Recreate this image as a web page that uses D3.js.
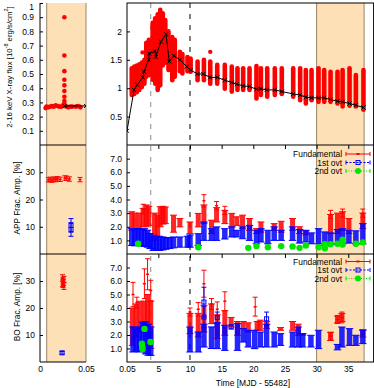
<!DOCTYPE html>
<html><head><meta charset="utf-8">
<script src="https://cdn.jsdelivr.net/npm/d3@7"></script>
<style>body{margin:0;background:#fff}svg text{font-family:"Liberation Sans",Arial,sans-serif;fill:#000}</style>
</head><body><svg id="c" width="374" height="388"></svg>
<script>
// ---------------- DATA ----------------
// Left (first hour) panels, time in days
const fluxEarlyPts = [[0.006,0.26],[0.007,0.27],[0.009,0.265],[0.011,0.27],[0.013,0.275],[0.015,0.27],[0.017,0.28],[0.019,0.275],[0.021,0.27],[0.023,0.27],[0.025,0.28],[0.027,0.275],[0.029,0.27],[0.031,0.265],[0.033,0.27],[0.035,0.27],[0.039,0.27],[0.041,0.275],[0.043,0.27],[0.044,0.265],
  [0.0265,0.90],[0.0265,0.63],[0.0265,0.52],[0.0265,0.46],[0.0265,0.42],[0.0265,0.38],[0.0265,0.34],[0.0265,0.31],[0.0265,0.29]];
const fluxEarlyAvg = [[0.027,0.275],[0.05,0.275]];
// Right panel: red flux ranges per observation [time, low, high]
const fluxCols = [[0.8,0.88,1.35],[1.2,0.90,1.38],[1.6,0.93,1.40],[2.0,0.97,1.42],[2.4,1.02,1.45],[2.8,1.08,1.50],[3.1,1.20,1.80],[3.5,1.23,1.85],
  [4.1,1.15,2.15],[4.5,1.08,2.23],[4.9,0.97,2.30],[5.3,1.05,2.38],[5.7,1.40,2.32],[6.1,1.45,2.20],[6.6,1.32,2.00],[7.2,1.14,1.90],[7.6,1.20,1.85],
  [8.4,1.30,1.64],[8.8,1.26,1.60],[9.6,1.30,1.55],[10.1,1.29,1.52],[11.2,1.14,1.47],[12.2,1.14,1.50],[13.2,1.08,1.47],[14.3,1.08,1.41],[15.5,0.99,1.41],
  [16.6,0.94,1.38],[17.5,0.97,1.35],[18.4,0.97,1.35],[19.4,0.97,1.35],[20.5,0.82,1.39],[21.2,0.88,1.35],[22.2,0.85,1.35],[23.4,0.88,1.35],[24.5,0.90,1.35],
  [26.3,0.85,1.35],[27.4,0.79,1.35],[28.3,0.73,1.32],[29.2,0.79,1.32],[30.3,0.76,1.35],[31.2,0.76,1.32],[32.2,0.76,1.29],[33.3,0.73,1.29],[34.1,0.68,1.32],
  [35.2,0.69,1.35],[36.2,0.68,1.23],[37.4,0.62,1.32]];
const fluxPts = [[2.5,1.63],[13.2,1.64]];
const fluxAvg = [[0.05,0.25],[1.16,0.97],[1.68,1.06],[2.53,1.19],[2.74,1.29],[3.48,1.50],[3.57,1.61],[4.47,1.65],[4.58,1.55],[5.42,1.82],[6.21,1.95],[6.73,1.47],[7.47,1.57],[8.42,1.50],[9.48,1.38],[10.11,1.32],[11.16,1.25],[12.1,1.25],[13.16,1.19],[14.3,1.19],[15.5,1.14],[16.6,1.10],[17.4,1.07],[18.4,1.04],[19.4,1.03],[20.5,0.98],[21.2,0.99],[22.1,0.97],[23.4,0.97],[24.5,0.94],[26.3,0.90],[27.4,0.88],[28.3,0.84],[29.2,0.83],[30.3,0.83],[31.2,0.83],[32.2,0.80],[33.3,0.77],[34.1,0.76],[35.2,0.73],[36.2,0.70],[37.4,0.66]];

// APP fractional amplitude [%]
const appEarlyFund = [[0.009,27.2,0.8],[0.011,27.4,0.8],[0.013,27.1,0.8],[0.015,27.5,0.8],[0.017,27.3,0.8],[0.019,27.6,0.8],[0.022,27.4,0.8],[0.027,27.9,0.8],[0.029,27.8,0.8],[0.032,27.5,0.8],[0.0435,27.3,0.8]];
const appEarly1st = [[0.0337,10.5,2.5],[0.0337,9.0,2.5]];
const appFundStacks = [[0.8,1.74,3.1],[1.3,1.8,3.0],[2.0,1.86,3.0],[2.6,2.0,3.35],[3.1,2.0,3.6],[3.5,2.1,3.5],[4.4,1.0,3.0],[4.9,1.25,2.85],[5.3,2.0,3.47],[5.7,2.2,3.5],[6.1,2.23,3.45],
  [7.4,1.6,2.85],[8.4,1.99,2.6],[10.0,1.5,2.35],[11.3,1.99,2.98],[12.2,2.23,3.6],[13.4,1.5,2.48],[14.2,2.35,3.4],[15.5,2.23,3.2],[16.6,1.99,2.98],[17.4,2.1,2.73],
  [18.3,1.86,2.85],[19.4,1.74,2.6],[20.5,1.5,1.86],[21.2,1.6,2.35],[23.3,1.74,2.23],[24.4,1.6,2.4],[26.2,1.74,2.6],[27.3,1.5,2.0],[28.3,1.4,1.7],
  [32.2,1.49,2.9],[33.3,1.5,3.0],[34.1,1.74,3.1],[35.1,1.5,2.6],[37.3,1.86,3.0]];
const appFundPts = [[12.2,3.9,0.45],[14.2,3.55,0.3],[15.5,3.2,0.3],[2.6,3.3,0.35],[32.2,2.9,0.3],[34.1,3.0,0.3],[37.3,3.0,0.3]];
const app1stStacks = [[0.8,0.63,1.86],[1.3,0.6,1.86],[1.8,0.63,1.86],[2.3,0.6,1.8],[2.8,0.55,1.86],[3.3,0.5,1.75],[3.7,0.4,1.5],[4.2,0.26,1.37],[4.7,0.26,1.3],[5.2,0.26,1.3],
  [5.7,0.3,1.25],[6.2,0.35,1.2],[6.8,0.4,1.2],[7.4,0.45,1.25],[8.4,0.5,1.25],[9.6,0.5,1.3],[10.0,0.5,1.4],[11.3,0.63,1.49],[12.2,1.0,2.35],[13.4,1.0,1.86],
  [14.2,1.0,1.99],[15.5,1.1,1.86],[16.6,1.25,1.99],[17.4,1.25,1.74],[18.3,1.12,1.99],[19.4,1.0,2.1],[20.5,0.75,1.74],[21.2,0.88,1.86],[22.3,0.75,1.74],
  [23.3,1.0,1.99],[24.4,1.0,1.74],[26.2,1.0,1.99],[27.3,0.8,1.8],[28.3,0.88,1.74],[29.2,0.75,1.55],[30.3,0.75,1.86],[31.3,0.63,1.62],[32.2,0.75,1.55],
  [33.3,0.7,1.8],[34.1,0.75,1.86],[35.1,0.8,1.74],[36.2,0.75,1.7],[37.3,0.75,2.23]];
const app2nd = [[1.8,0.75],[11.3,0.5],[19.2,0.45],[20.5,0.58],[22.3,0.5],[24.4,0.58],[26.2,0.55],[27.3,0.45],[28.3,0.62],[30.3,0.5],[31.3,0.42],[31.3,0.72],[32.2,0.72],[33.3,0.75],[34.1,1.05],[34.1,0.7],[36.2,0.75],[37.3,0.85]];

// BO fractional amplitude [%]
const boEarlyFund = [[0.0245,31.0,1.3],[0.025,30.0,1.2],[0.0255,29.5,1.2],[0.025,28.8,1.2],[0.026,28.2,1.3],[0.0245,29.2,1.2],[0.026,30.5,1.2]];
const boEarly1st = [[0.024,3.4,0.5]];
const boFundStacks = [[0.9,1.23,4.0],[1.5,1.85,4.3],[2.1,2.22,4.5],[2.8,2.22,4.5],[3.3,1.23,5.0],[3.8,1.0,4.5],[10.0,2.1,3.6],[11.3,1.85,3.6],[12.2,2.22,4.2],
  [13.4,2.84,4.3],[14.3,1.73,3.5],[15.5,1.98,3.8],[16.5,2.59,3.3],[17.5,1.98,3.0],[18.4,2.47,3.0],[19.2,2.22,2.9],[20.6,2.35,3.0],[21.1,2.35,3.1],[22.1,2.47,3.0],
  [24.3,2.35,2.55],[26.2,2.35,3.0],[27.1,1.98,2.8],[27.8,1.98,2.1],[32.2,1.6,2.2],[33.3,2.9,3.4],[34.0,3.0,3.6],[37.3,1.85,2.4]];
const boFundPts = [[1.0,5.0,0.9],[3.3,6.5,1.15],[2.8,5.8,1.1],[3.8,5.3,0.75],[1.6,4.4,0.4],[12.2,5.8,1.0],[15.5,4.5,0.7],[14.3,3.9,0.55],[11.3,3.9,0.5],
  [10.0,3.7,0.3],[20.3,4.1,0.7],[13.4,4.3,0.4],[32.2,1.9,0.3],[33.3,3.15,0.3],[34.0,3.3,0.4]];
const bo1stStacks = [[1.0,0.74,2.6],[1.5,0.8,2.5],[2.0,0.74,2.6],[2.5,0.8,2.96],[3.0,0.6,3.0],[3.4,0.5,2.8],[3.8,0.49,2.6],[10.0,0.74,2.59],[11.3,0.74,2.22],[12.2,1.11,2.8],
  [13.4,1.0,2.6],[14.3,0.99,2.9],[15.5,0.86,2.72],[17.5,0.86,2.84],[18.4,1.48,2.47],[19.2,1.11,2.35],[20.2,0.99,2.35],[21.1,1.11,2.22],[22.1,1.11,2.8],[23.3,1.11,2.22],
  [24.3,1.23,2.1],[26.2,1.11,2.22],[27.1,1.11,2.59],[27.8,1.11,2.1],[29.1,1.11,1.98],[30.3,0.99,2.35],[33.3,0.9,1.3],[34.0,1.11,2.59],[35.2,1.23,2.47],[36.2,1.23,1.98],[37.3,1.36,2.35]];
const bo1stPts = [[12.2,4.44,1.1],[12.2,3.33,0.8],[16.5,2.6,0.15],[14.3,3.3,0.4],[22.1,3.2,0.5]];
const bo2nd = [[2.4,1.35],[2.45,1.15],[2.5,0.95],[2.8,2.45],[3.75,1.48]];

// Tick labels
const fluxLTicks = [0.1,0.2,0.3,0.4,0.5,0.6,0.7,0.8,0.9,1];
const fluxRTicks = [0.5,1,1.5,2];
const ampLTicks = [10,20,30];
const ampRTicks = [1,2,3,4,5,6,7];
const timeLTicks = [0,0.05];
const timeRTicks = [0.05,5,10,15,20,25,30,35];
const shadeL = [0.0073,0.05], shadeR = [30,37.5];
const vlines = [{t:3.8,c:"#8a8a8a"},{t:10,c:"#000"}];
const legendNames = ["Fundamental","1st ovt","2nd ovt"];

// ---------------- DRAW ----------------
const RED="#ff0000", BLUE="#0000ff", GREEN="#00e600";
const svg = d3.select("#c");
const P = [{t:3,b:145},{t:145,b:254},{t:254,b:362}];
const xL = d3.scaleLinear([0,0.05],[40,86]);
const xR = d3.scaleLinear([0.05,39],[127,373.6]);
const yFluxL = d3.scaleLinear([0,1],[145,3]);
const yFluxR = d3.scaleLinear([0,2.5],[145,3]);
const yAppL = d3.scaleLinear([0,40],[254,145]);
const yAppR = d3.scaleLinear([0,8],[254,145]);
const yBoL = d3.scaleLinear([0,40],[362,254]);
const yBoR = d3.scaleLinear([0,8],[362,254]);

const defs = svg.append("defs");
P.forEach((p,i)=>{
  defs.append("clipPath").attr("id","cr"+i).append("rect").attr("x",127).attr("y",p.t).attr("width",246.6).attr("height",p.b-p.t);
  defs.append("clipPath").attr("id","cl"+i).append("rect").attr("x",40).attr("y",p.t).attr("width",46).attr("height",p.b-p.t);
});

// shading
const shadeFill="#fde0b5", shadeEdge="#9b8468";
svg.append("rect").attr("x",xL(shadeL[0])).attr("y",3).attr("width",xL(shadeL[1])-xL(shadeL[0])).attr("height",359).attr("fill",shadeFill);
svg.append("rect").attr("x",xR(shadeR[0])).attr("y",3).attr("width",xR(shadeR[1])-xR(shadeR[0])).attr("height",359).attr("fill",shadeFill);
[xL(shadeL[0]),xL(shadeL[1]),xR(shadeR[0]),xR(shadeR[1])].forEach(x=>{
  svg.append("line").attr("x1",x).attr("x2",x).attr("y1",3).attr("y2",362).attr("stroke",shadeEdge).attr("stroke-width",1);
});
// dashed vertical lines
vlines.forEach(v=>{
  svg.append("line").attr("x1",xR(v.t)).attr("x2",xR(v.t)).attr("y1",3).attr("y2",362)
    .attr("stroke",v.c).attr("stroke-width",1).attr("stroke-dasharray","5,6");
});

function stacks(g,data,x,y,color,w){
  g.selectAll(null).data(data).join("rect")
    .attr("x",d=>x(d[0])-w/2).attr("y",d=>y(d[2])).attr("width",w).attr("height",d=>y(d[1])-y(d[2]))
    .attr("fill",color).attr("opacity",0.85);
  g.selectAll(null).data(data.flatMap(d=>[[d[0],d[1]],[d[0],d[2]]])).join("line")
    .attr("x1",d=>x(d[0])-w/2-1).attr("x2",d=>x(d[0])+w/2+1).attr("y1",d=>y(d[1])).attr("y2",d=>y(d[1]))
    .attr("stroke",color).attr("stroke-width",1);
}
function errPts(g,data,x,y,color,marker){
  const s=g.selectAll(null).data(data).join("g");
  s.append("line").attr("x1",d=>x(d[0])).attr("x2",d=>x(d[0])).attr("y1",d=>y(d[1]-d[2])).attr("y2",d=>y(d[1]+d[2])).attr("stroke",color).attr("stroke-width",1);
  s.append("line").attr("x1",d=>x(d[0])-2.5).attr("x2",d=>x(d[0])+2.5).attr("y1",d=>y(d[1]-d[2])).attr("y2",d=>y(d[1]-d[2])).attr("stroke",color);
  s.append("line").attr("x1",d=>x(d[0])-2.5).attr("x2",d=>x(d[0])+2.5).attr("y1",d=>y(d[1]+d[2])).attr("y2",d=>y(d[1]+d[2])).attr("stroke",color);
  if(marker==="sq") s.append("rect").attr("x",d=>x(d[0])-2).attr("y",d=>y(d[1])-2).attr("width",4).attr("height",4).attr("fill","none").attr("stroke",color);
  else s.append("line").attr("x1",d=>x(d[0])-1.5).attr("x2",d=>x(d[0])+1.5).attr("y1",d=>y(d[1])).attr("y2",d=>y(d[1])).attr("stroke",color).attr("stroke-width",1.5);
}
function dots(g,data,x,y,color,r){
  g.selectAll(null).data(data).join("circle").attr("cx",d=>x(d[0])).attr("cy",d=>y(d[1])).attr("r",r).attr("fill",color);
}
function xMarks(g,data,x,y){
  g.append("path").attr("d",d3.line().x(d=>x(d[0])).y(d=>y(d[1]))(data)).attr("fill","none").attr("stroke","#000").attr("stroke-width",1);
  g.selectAll(null).data(data).join("path").attr("transform",d=>`translate(${x(d[0])},${y(d[1])})`)
    .attr("d","M-2,-2L2,2M-2,2L2,-2").attr("stroke","#000").attr("stroke-width",1);
}

// --- top panels
const gT0 = svg.append("g").attr("clip-path","url(#cl0)");
dots(gT0,fluxEarlyPts,xL,yFluxL,RED,2.3);
xMarks(gT0,fluxEarlyAvg,xL,yFluxL);
const gT1 = svg.append("g").attr("clip-path","url(#cr0)");
gT1.selectAll(null).data(fluxCols).join("line").attr("x1",d=>xR(d[0])).attr("x2",d=>xR(d[0]))
  .attr("y1",d=>yFluxR(d[1])).attr("y2",d=>yFluxR(d[2])).attr("stroke",RED).attr("stroke-width",4.6).attr("stroke-linecap","round");
dots(gT1,fluxPts,xR,yFluxR,RED,2.2);
xMarks(gT1,fluxAvg,xR,yFluxR);

// --- middle panels
const gM0 = svg.append("g").attr("clip-path","url(#cl1)");
errPts(gM0,appEarlyFund,xL,yAppL,RED,"pt");
errPts(gM0,appEarly1st,xL,yAppL,BLUE,"sq");
const gM1 = svg.append("g").attr("clip-path","url(#cr1)");
stacks(gM1,appFundStacks,xR,yAppR,RED,5);
errPts(gM1,appFundPts,xR,yAppR,RED,"pt");
stacks(gM1,app1stStacks,xR,yAppR,BLUE,5.5);
dots(gM1,app2nd,xR,yAppR,GREEN,3.2);

// --- bottom panels
const gB0 = svg.append("g").attr("clip-path","url(#cl2)");
errPts(gB0,boEarlyFund,xL,yBoL,RED,"pt");
errPts(gB0,boEarly1st,xL,yBoL,BLUE,"sq");
const gB1 = svg.append("g").attr("clip-path","url(#cr2)");
stacks(gB1,boFundStacks,xR,yBoR,RED,5);
errPts(gB1,boFundPts,xR,yBoR,RED,"pt");
stacks(gB1,bo1stStacks,xR,yBoR,BLUE,5.5);
errPts(gB1,bo1stPts,xR,yBoR,BLUE,"sq");
dots(gB1,bo2nd,xR,yBoR,GREEN,3.2);

// --- frames
const fr = svg.append("g").attr("stroke","#000").attr("stroke-width",1).attr("fill","none");
fr.append("line").attr("x1",40).attr("x2",40).attr("y1",3).attr("y2",362);
[145,254,362].forEach(y=>fr.append("line").attr("x1",40).attr("x2",86).attr("y1",y).attr("y2",y));
fr.append("rect").attr("x",127).attr("y",3).attr("width",246.6).attr("height",359);
[145,254].forEach(y=>fr.append("line").attr("x1",127).attr("x2",373.6).attr("y1",y).attr("y2",y));

// --- axes
function styleAxis(g){ g.select(".domain").remove(); g.selectAll("text").attr("font-size",8.5).attr("font-family","Liberation Sans, Arial, sans-serif").attr("fill","#000"); g.selectAll("line").attr("stroke","#000"); g.attr("font-family",null).attr("font-size",null); }
const fmt1 = d3.format(".1f");
svg.append("g").attr("transform","translate(40,0)").call(d3.axisLeft(yFluxL).tickValues(fluxLTicks).tickFormat(d=>d===1?"1":fmt1(d)).tickSize(-3).tickPadding(6)).call(styleAxis)
  .selectAll(".tick text").filter(d=>d===1).attr("dy","0.75em");
svg.append("g").attr("transform","translate(127,0)").call(d3.axisLeft(yFluxR).tickValues(fluxRTicks).tickFormat(d=>String(d)).tickSize(-3).tickPadding(5)).call(styleAxis);
svg.append("g").attr("transform","translate(40,0)").call(d3.axisLeft(yAppL).tickValues(ampLTicks).tickSize(-3).tickPadding(5)).call(styleAxis);
svg.append("g").attr("transform","translate(40,0)").call(d3.axisLeft(yBoL).tickValues(ampLTicks).tickSize(-3).tickPadding(5)).call(styleAxis);
svg.append("g").attr("transform","translate(127,0)").call(d3.axisLeft(yAppR).tickValues(ampRTicks).tickFormat(fmt1).tickSize(-3).tickPadding(5)).call(styleAxis);
svg.append("g").attr("transform","translate(127,0)").call(d3.axisLeft(yBoR).tickValues(ampRTicks).tickFormat(fmt1).tickSize(-3).tickPadding(5)).call(styleAxis);
svg.append("g").attr("transform","translate(0,362)").call(d3.axisBottom(xL).tickValues(timeLTicks).tickFormat(d=>d===0?"0":String(d)).tickSize(0).tickPadding(4)).call(styleAxis);
svg.append("g").attr("transform","translate(0,362)").call(d3.axisBottom(xR).tickValues(timeRTicks).tickFormat(d=>String(d)).tickSize(0).tickPadding(4)).call(styleAxis);
// mirrored x ticks at panel tops
[145,254].forEach(y=>{
  svg.append("g").attr("transform",`translate(0,${y})`).call(d3.axisTop(xR).tickValues(timeRTicks.slice(1)).tickFormat("").tickSize(-4)).call(styleAxis);
});

// --- axis titles
const tt = svg.append("text").attr("transform","translate(8.5,67) rotate(-90)").attr("text-anchor","middle").attr("dominant-baseline","central").attr("font-size",7.8);
tt.append("tspan").text("2-16 keV X-ray flux [10");
tt.append("tspan").attr("font-size",5.5).attr("dy",-3).text("-8");
tt.append("tspan").attr("dy",3).text(" erg/s/cm");
tt.append("tspan").attr("font-size",5.5).attr("dy",-3).text("2");
tt.append("tspan").attr("dy",3).text("]");
svg.append("text").attr("transform","translate(17,198) rotate(-90)").attr("text-anchor","middle").attr("dominant-baseline","central").attr("font-size",8.3).text("APP Frac. Amp. [%]");
svg.append("text").attr("transform","translate(17,307) rotate(-90)").attr("text-anchor","middle").attr("dominant-baseline","central").attr("font-size",8.3).text("BO Frac. Amp. [%]");
svg.append("text").attr("x",253).attr("y",386).attr("text-anchor","middle").attr("font-size",8.5).text("Time [MJD - 55482]");

// --- legends
function legend(y0){
  const g = svg.append("g");
  const cols=[RED,BLUE,GREEN], dashes=[null,"2,1.5","1,1.5"];
  legendNames.forEach((n,i)=>{
    const y=y0+i*8.5;
    g.append("text").attr("x",342).attr("y",y).attr("text-anchor","end").attr("dominant-baseline","central").attr("font-size",8.4).text(n);
    g.append("line").attr("x1",346).attr("x2",370).attr("y1",y).attr("y2",y).attr("stroke",cols[i]).attr("stroke-dasharray",dashes[i]);
    [346,370].forEach(x=>g.append("line").attr("x1",x).attr("x2",x).attr("y1",y-2).attr("y2",y+2).attr("stroke",cols[i]));
    if(i===0) g.append("line").attr("x1",356.5).attr("x2",359.5).attr("y1",y).attr("y2",y).attr("stroke",RED).attr("stroke-width",2);
    if(i===1) g.append("rect").attr("x",356).attr("y",y-2).attr("width",4).attr("height",4).attr("fill","none").attr("stroke",BLUE);
    if(i===2) g.append("circle").attr("cx",358).attr("cy",y).attr("r",3).attr("fill",GREEN);
  });
}
legend(154);
legend(261.5);
</script></body></html>
